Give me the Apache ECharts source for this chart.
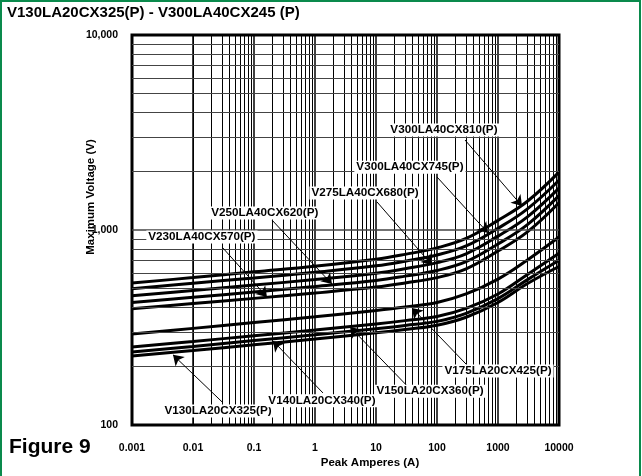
<!DOCTYPE html>
<html>
<head>
<meta charset="utf-8">
<script src="https://cdn.jsdelivr.net/npm/echarts@6/dist/echarts.min.js"></script>
<style>
html,body{margin:0;padding:0;background:#fff;}
#chart{width:642px;height:476px;}
</style>
</head>
<body>
<div id="chart"></div>
<script>
// peak current (A) where each curve was read
var currents = [0.001, 0.01, 0.1, 1, 10, 30, 100, 300, 1000, 3000, 10000];
// max voltage (V)
var v300_810 = [535, 570, 610, 652, 708, 750, 810, 905, 1120, 1400, 1980];
var v300_745 = [500, 533, 568, 607, 655, 692, 745, 828, 1020, 1280, 1800];
var v275_680 = [460, 490, 522, 557, 600, 633, 680, 755, 930, 1165, 1640];
var v250_620 = [425, 452, 481, 513, 551, 580, 620, 688, 848, 1062, 1500];
var v230_570 = [395, 420, 446, 475, 510, 535, 570, 632, 780, 975, 1380];
var v175_425 = [293, 313, 335, 359, 387, 403, 425, 470, 560, 700, 920];
var v150_360 = [251, 268, 287, 307, 330, 343, 360, 396, 470, 590, 760];
var v140_340 = [237, 253, 271, 290, 312, 324, 340, 374, 445, 555, 700];
var v130_325 = [226, 241, 258, 276, 297, 309, 325, 357, 425, 530, 650];

var xTickLabels = ['0.001', '0.01', '0.1', '1', '10', '100', '1000', '10000'];
var yTickLabels = ['100', '1,000', '10,000'];

// callouts: text, label position [A, V], arrow start, arrow tip
var calloutNames = ['V300LA40CX810(P)', 'V300LA40CX745(P)', 'V275LA40CX680(P)', 'V250LA40CX620(P)', 'V230LA40CX570(P)',
  'V130LA20CX325(P)', 'V140LA20CX340(P)', 'V150LA20CX360(P)', 'V175LA20CX425(P)'];
var calloutAt = [[130, 3260], [36, 2100], [6.6, 1550], [0.15, 1222], [0.014, 921],
  [0.0257, 118], [1.30, 133], [76.8, 149], [1000, 189]];
var arrowFrom = [[288, 2894], [100, 1870], [10.4, 1392], [0.197, 1125], [0.0299, 818],
  [0.031, 130], [1.35, 146], [33.5, 157], [310, 203]];
var arrowTo = [[2473, 1328], [686, 966], [82.8, 661], [1.90, 528], [0.163, 453],
  [0.0047, 229], [0.205, 270], [3.75, 318], [38.9, 398]];

var curves = [v300_810, v300_745, v275_680, v250_620, v230_570, v175_425, v150_360, v140_340, v130_325];

var myChart = echarts.init(document.getElementById('chart'));
var font = 'Liberation Sans, Arial, sans-serif';

// log grid lines 2..9 in each decade
var vLines = [], hLines = [];
for (var e = -3; e < 4; e++) {
  for (var m = 1; m < 10; m++) {
    if (e === -3 && m === 1) continue;
    vLines.push({ xAxis: m * Math.pow(10, e), lineStyle: { width: m === 1 ? 1.5 : 1 } });
  }
}
for (var e2 = 2; e2 < 4; e2++) {
  for (var m2 = 1; m2 < 10; m2++) {
    if (e2 === 2 && m2 === 1) continue;
    hLines.push({ yAxis: m2 * Math.pow(10, e2), lineStyle: { width: m2 === 1 ? 1.5 : 1, color: '#444' } });
  }
}

var series = [];
series.push({
  type: 'line', data: [], silent: true,
  markLine: {
    silent: true, symbol: 'none', animation: false,
    label: { show: false },
    lineStyle: { color: '#000', type: 'solid', width: 1 },
    data: vLines.concat(hLines)
  }
});
curves.forEach(function (c) {
  series.push({
    type: 'line', smooth: 0.4, symbol: 'none', silent: true, z: 3,
    lineStyle: { color: '#000', width: 3 },
    data: currents.map(function (a, i) { return [a, c[i]]; })
  });
});
series.push({
  type: 'line', data: [], silent: true, z: 5,
  markLine: {
    silent: true, animation: false, symbol: ['none', 'arrow'], symbolSize: 10,
    label: { show: false },
    itemStyle: { color: '#000' },
    lineStyle: { color: '#000', type: 'solid', width: 1 },
    data: arrowFrom.map(function (p, i) { return [{ coord: p }, { coord: arrowTo[i] }]; })
  },
  markPoint: {
    silent: true, animation: false, symbol: 'circle', symbolSize: 0,
    label: {
      show: true, position: 'inside', color: '#000', fontFamily: font, fontWeight: 'bold', fontSize: 11.7,
      backgroundColor: '#fff', padding: [1, 2, 0, 2],
      formatter: function (p) { return p.name; }
    },
    data: calloutAt.map(function (p, i) { return { coord: p, name: calloutNames[i] }; })
  }
});

var option = {
  animation: false,
  grid: { left: 132, right: 83, top: 35, bottom: 51, show: true, borderColor: '#000', borderWidth: 3, backgroundColor: 'transparent' },
  xAxis: {
    type: 'log', logBase: 10, min: 0.001, max: 10000, splitNumber: 7,
    axisLine: { show: false }, axisTick: { show: false }, splitLine: { show: false },
    axisLabel: {
      margin: 18, color: '#000', fontFamily: font, fontWeight: 'bold', fontSize: 10.5,
      formatter: function (v) { return xTickLabels[Math.round(Math.log10(v)) + 3]; }
    }
  },
  yAxis: {
    type: 'log', logBase: 10, min: 100, max: 10000, splitNumber: 2,
    axisLine: { show: false }, axisTick: { show: false }, splitLine: { show: false },
    axisLabel: {
      margin: 14, color: '#000', fontFamily: font, fontWeight: 'bold', fontSize: 10.5,
      formatter: function (v) { return yTickLabels[Math.round(Math.log10(v)) - 2]; }
    }
  },
  graphic: [
    { type: 'rect', shape: { x: 1, y: 1, width: 639, height: 480 }, style: { fill: 'none', stroke: '#0a8a4c', lineWidth: 2 }, silent: true },
    { type: 'text', left: 7, top: 5, style: { text: 'V130LA20CX325(P) - V300LA40CX245 (P)', font: 'bold 15px ' + font, fill: '#000' } },
    { type: 'text', x: 9, y: 447, style: { text: 'Figure 9', font: 'bold 21px ' + font, fill: '#000', verticalAlign: 'middle' } },
    { type: 'text', x: 370, y: 463, style: { text: 'Peak Amperes (A)', font: 'bold 11.5px ' + font, fill: '#000', align: 'center', verticalAlign: 'middle' } },
    { type: 'text', x: 91, y: 197, rotation: Math.PI / 2, style: { text: 'Maximum Voltage (V)', font: 'bold 11.5px ' + font, fill: '#000', align: 'center', verticalAlign: 'middle' } }
  ],
  series: series
};
myChart.setOption(option);
</script>
</body>
</html>
